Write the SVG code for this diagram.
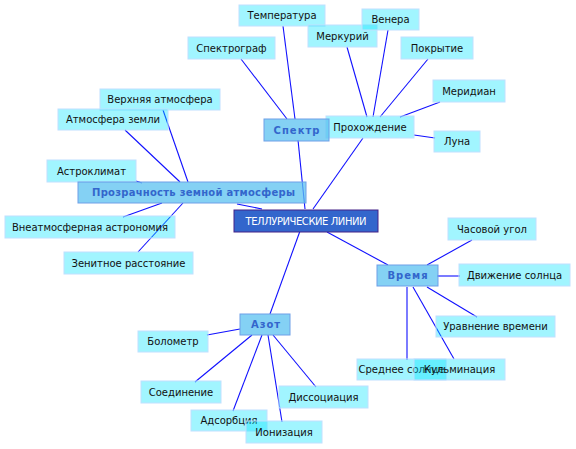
<svg xmlns="http://www.w3.org/2000/svg" width="576" height="449" viewBox="0 0 576 449">
<style>
.n rect{fill:#00E5FF;fill-opacity:.37;stroke:#BFE0FF;stroke-width:1}
.n text{font-family:"DejaVu Sans",sans-serif;font-size:10px;fill:#111;text-anchor:middle}
.m rect{fill:#5BC2F0;fill-opacity:.75;stroke:#6E9FE8;stroke-width:1}
.m text{font-family:"DejaVu Sans",sans-serif;font-size:10px;font-weight:bold;fill:#3366CC;text-anchor:middle;letter-spacing:1px}
.c rect{fill:#3366CC;stroke:#442288;stroke-width:1}
.c text{font-family:"DejaVu Sans",sans-serif;font-size:10px;fill:#fff;text-anchor:middle}
#edges line{stroke:#1010FF;stroke-width:1.1}
</style>
<rect width="576" height="449" fill="#fff"/>
<g id="edges">
<line x1="305" y1="209" x2="298" y2="140"/>
<line x1="313" y1="209" x2="363" y2="138"/>
<line x1="237" y1="204" x2="262" y2="209"/>
<line x1="300" y1="231" x2="270" y2="314"/>
<line x1="327" y1="232" x2="388" y2="265"/>
<line x1="283" y1="26" x2="295" y2="119"/>
<line x1="241" y1="59" x2="287" y2="119"/>
<line x1="347" y1="47" x2="367" y2="117"/>
<line x1="388" y1="30" x2="373" y2="117"/>
<line x1="428" y1="59" x2="380" y2="117"/>
<line x1="440" y1="102" x2="400" y2="117"/>
<line x1="414" y1="135" x2="435" y2="138"/>
<line x1="163" y1="110" x2="188" y2="182"/>
<line x1="125" y1="130" x2="180" y2="182"/>
<line x1="136" y1="181" x2="142" y2="183"/>
<line x1="123" y1="217" x2="162" y2="203"/>
<line x1="138" y1="252" x2="183" y2="203"/>
<line x1="472" y1="240" x2="427" y2="265"/>
<line x1="437" y1="276" x2="460" y2="276"/>
<line x1="427" y1="287" x2="477" y2="317"/>
<line x1="407" y1="287" x2="407" y2="360"/>
<line x1="413" y1="287" x2="454" y2="359"/>
<line x1="207" y1="335" x2="240" y2="329"/>
<line x1="195" y1="382" x2="252" y2="335"/>
<line x1="233" y1="411" x2="262" y2="335"/>
<line x1="282" y1="422" x2="268" y2="335"/>
<line x1="316" y1="387" x2="273" y2="335"/>
</g>
<g id="n-temperatura" class="n"><rect x="239" y="5" width="86" height="21"/><text x="282" y="19">Температура</text></g>
<g id="n-spektrograf" class="n"><rect x="188" y="37" width="87" height="22"/><text x="231.5" y="51.5">Спектрограф</text></g>
<g id="n-verkhnyaya" class="n"><rect x="100" y="89" width="120" height="21"/><text x="160" y="103">Верхняя атмосфера</text></g>
<g id="n-atm-zemli" class="n"><rect x="58" y="109" width="110" height="21"/><text x="113" y="123">Атмосфера земли</text></g>
<g id="n-merkuriy" class="n"><rect x="308" y="25" width="69" height="22"/><text x="342.5" y="39.5">Меркурий</text></g>
<g id="n-venera" class="n"><rect x="362" y="9" width="57" height="21"/><text x="390.5" y="23">Венера</text></g>
<g id="n-pokrytie" class="n"><rect x="401" y="37" width="72" height="22"/><text x="437" y="51.5">Покрытие</text></g>
<g id="n-meridian" class="n"><rect x="433" y="80" width="72" height="22"/><text x="469" y="94.5">Меридиан</text></g>
<g id="n-prokhozhdenie" class="n"><rect x="326" y="116" width="88" height="22"/><text x="370" y="130.5">Прохождение</text></g>
<g id="n-luna" class="n"><rect x="434" y="131" width="46" height="21"/><text x="457" y="145">Луна</text></g>
<g id="n-astroklimat" class="n"><rect x="47" y="160" width="89" height="22"/><text x="91.5" y="174.5">Астроклимат</text></g>
<g id="n-vneatm" class="n"><rect x="5" y="216" width="170" height="22"/><text x="90" y="230.5">Внеатмосферная астрономия</text></g>
<g id="n-zenit" class="n"><rect x="64" y="252" width="129" height="22"/><text x="128.5" y="266.5">Зенитное расстояние</text></g>
<g id="n-chasovoy" class="n"><rect x="448" y="218" width="88" height="22"/><text x="492" y="232.5">Часовой угол</text></g>
<g id="n-dvizhenie" class="n"><rect x="459" y="264" width="111" height="22"/><text x="514.5" y="278.5">Движение солнца</text></g>
<g id="n-uravnenie" class="n"><rect x="436" y="316" width="119" height="21"/><text x="495.5" y="330">Уравнение времени</text></g>
<g id="n-srednee" class="n"><rect x="357" y="359" width="89" height="21"/><text x="401.5" y="373">Среднее солнце</text></g>
<g id="n-kulminatsiya" class="n"><rect x="414" y="359" width="91" height="21"/><text x="459.5" y="373">Кульминация</text></g>
<g id="n-bolometr" class="n"><rect x="138" y="331" width="70" height="21"/><text x="173" y="345">Болометр</text></g>
<g id="n-soedinenie" class="n"><rect x="141" y="381" width="80" height="22"/><text x="181" y="395.5">Соединение</text></g>
<g id="n-dissotsiatsiya" class="n"><rect x="279" y="386" width="89" height="22"/><text x="323.5" y="400.5">Диссоциация</text></g>
<g id="n-adsorbtsiya" class="n"><rect x="191" y="410" width="76" height="21"/><text x="229" y="424">Адсорбция</text></g>
<g id="n-ionizatsiya" class="n"><rect x="246" y="421" width="76" height="22"/><text x="284" y="435.5">Ионизация</text></g>
<g id="m-spektr" class="m"><rect x="264" y="119" width="65" height="22"/><text x="297" y="133.5">Спектр</text></g>
<g id="m-prozrachnost" class="m"><rect x="78" y="182" width="228" height="21"/><text x="194" y="196" textLength="204" lengthAdjust="spacing">Прозрачность земной атмосферы</text></g>
<g id="m-vremya" class="m"><rect x="377" y="265" width="61" height="21"/><text x="408" y="279">Время</text></g>
<g id="m-azot" class="m"><rect x="240" y="314" width="50" height="21"/><text x="266" y="328">Азот</text></g>
<g id="c-center" class="c"><rect x="234" y="210" width="144" height="22"/><text x="306" y="224.5" textLength="121" lengthAdjust="spacing">ТЕЛЛУРИЧЕСКИЕ ЛИНИИ</text></g>
</svg>
